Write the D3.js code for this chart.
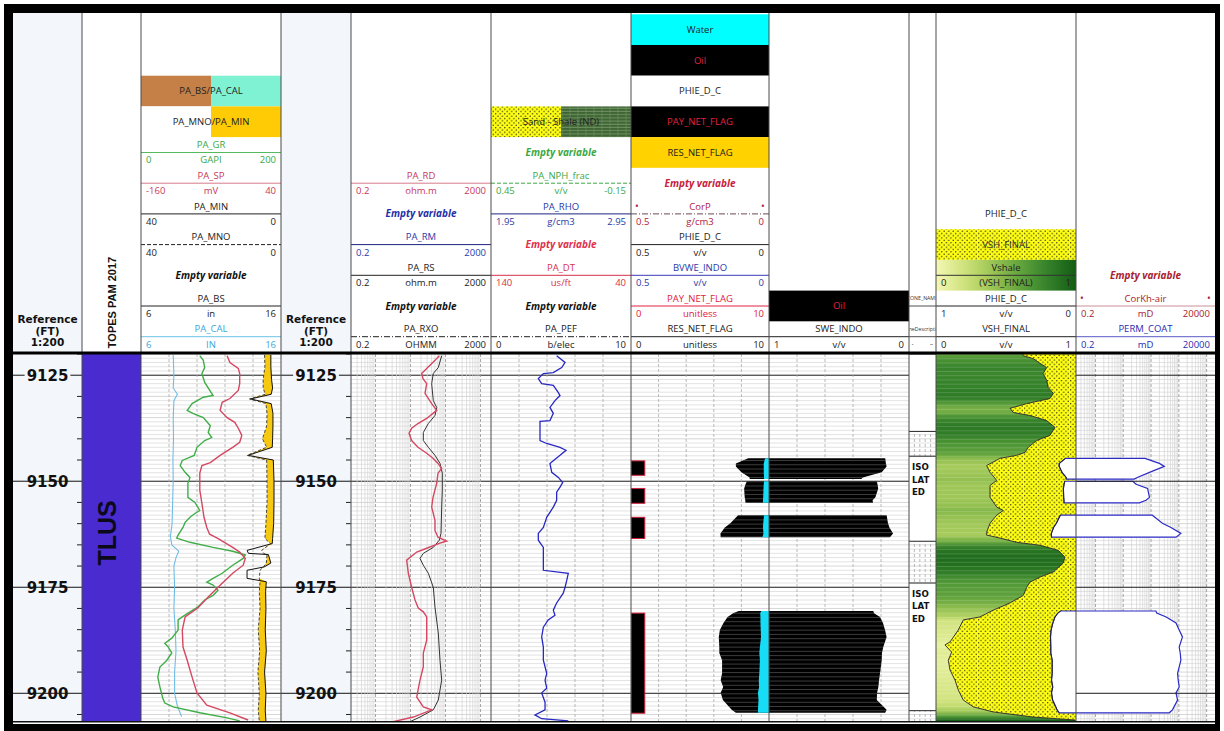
<!DOCTYPE html>
<html>
<head>
<meta charset="utf-8">
<script src="https://cdn.jsdelivr.net/npm/d3@7"></script>
<style>
  body { margin: 0; background: #fff; }
  svg { display: block; }
</style>
</head>
<body>
<svg id="chart" width="1224" height="731"></svg>
<script>
// ---------------- Well data (depth in FT) ----------------
const depthTop = 9120, depthBase = 9206.7;
const majorStep = 25, minorStep = 5;
const depthLabels = [9125, 9150, 9175, 9200];

// [depth, value]
const grLog = [[9120.4,84],[9121.5,89],[9123.2,91],[9124.6,87],[9126.7,91],[9129.8,103],[9130.2,89],[9131.7,73],[9133.3,66],[9134.0,74],[9135.0,89],[9136.9,99],[9138.5,96],[9139.7,101],[9140.4,91],[9142.0,80],[9143.9,76],[9145.1,59],[9146.3,56],[9147.9,63],[9149.1,70],[9150.5,67],[9153.8,67],[9155.0,77],[9156.9,84],[9157.6,77],[9158.5,70],[9159.7,63],[9160.9,60],[9162.7,53],[9163.4,51],[9164.4,70],[9165.6,103],[9166.5,131],[9167.4,149],[9168.2,146],[9169.8,131],[9171.7,116],[9172.9,103],[9173.8,94],[9174.5,103],[9175.7,110],[9176.9,103],[9178.0,91],[9179.7,81],[9180.8,70],[9182.0,59],[9182.7,53],[9185.1,53],[9187.0,44],[9188.2,34],[9189.1,39],[9190.5,44],[9192.2,37],[9193.8,27],[9196.2,24],[9198.5,27],[9201.1,31],[9202.3,34],[9203.2,46],[9204.6,84],[9205.8,123],[9206.5,141]];

const spLog = [[9120.4,-37],[9122.0,-33],[9123.4,-21],[9124.6,-19],[9127.0,-19],[9128.6,-21],[9130.5,-33],[9131.4,-44],[9133.3,-47],[9135.0,-37],[9136.1,-26],[9137.5,-21],[9139.2,-16],[9140.8,-19],[9142.0,-29],[9143.9,-47],[9145.6,-61],[9146.3,-73],[9148.1,-76],[9152.1,-76],[9155.2,-73],[9158.5,-70],[9160.9,-66],[9162.5,-62],[9163.4,-51],[9165.6,-29],[9166.7,-19],[9168.2,-11],[9169.8,-14],[9171.7,-29],[9174.5,-47],[9177.3,-64],[9179.9,-79],[9182.0,-97],[9185.1,-101],[9189.1,-100],[9192.2,-94],[9196.2,-87],[9199.9,-80],[9202.8,-66],[9204.6,-33],[9206.3,-7]];

const calLog = [[9120.2,8.3],[9125,8.35],[9128,8.3],[9129.5,8.6],[9131,8.35],[9135,8.3],[9140,8.32],[9145,8.28],[9150,8.3],[9155,8.26],[9160,8.22],[9163,8.1],[9165,8.2],[9166.5,8.7],[9168,8.5],[9170,8.35],[9175,8.4],[9180,8.35],[9185,8.45],[9190,8.5],[9195,8.4],[9200,8.4],[9203,8.6],[9205.5,8.9]];

// [depth, PA_MNO, PA_MIN]
const mnoMinLog = [[9120.2,4.7,2.9],[9123,4.6,2.9],[9126,5.1,2.7],[9128,5.1,2.4],[9129.5,4.5,2.8],[9130.6,9.0,8.7],[9131.7,4.3,2.8],[9134,4.0,2.3],[9137,4.1,2.3],[9140,5.3,2.4],[9142,4.1,2.5],[9143.9,9.7,9.4],[9145,4.1,2.2],[9150,4.0,2.0],[9155,4.0,2.0],[9160,4.3,2.1],[9163.5,4.6,2.4],[9164.7,3.0,2.5],[9166.3,5.5,9.7],[9167,5.0,9.3],[9167.3,4.0,3.6],[9169.3,4.2,2.9],[9170.2,5.0,4.8],[9171,6.0,9.7],[9172.9,6.2,9.7],[9173.7,6.0,4.2],[9176,6.2,4.4],[9180,6.0,4.3],[9185,6.5,4.5],[9190,6.1,4.2],[9195,6.6,4.7],[9200,6.2,4.3],[9204,6.5,4.5],[9206.6,6.2,4.3]];

const rdLog = [[9120.4,66.7],[9121.5,50.2],[9123.4,29.1],[9124.6,20.9],[9125.8,22.8],[9127.0,29.1],[9129.3,26.0],[9131.7,40.4],[9133.3,56.2],[9134.0,44.0],[9135.2,29.1],[9136.4,16.4],[9137.5,10.8],[9138.7,9.1],[9140.4,10.8],[9142.0,16.4],[9143.4,29.1],[9144.6,44.0],[9145.8,61.2],[9147.0,78.0],[9148.1,61.2],[9150.5,56.2],[9153.8,44.0],[9156.1,40.4],[9159.2,50.2],[9161.6,50.2],[9163.2,61.2],[9164.1,108.5],[9164.6,69.8],[9165.8,29.1],[9166.7,15.1],[9168.6,7.8],[9171.7,8.7],[9175.0,10.8],[9178.0,13.5],[9179.9,16.7],[9180.8,23.3],[9182.0,29.1],[9184.4,29.1],[9187.5,29.1],[9190.5,23.3],[9193.8,23.3],[9196.9,18.7],[9200.9,15.1],[9203.2,23.3],[9203.9,40.4],[9205.6,12.1],[9206.7,3.2]];

const rsLog = [[9120.4,78.0],[9123.2,62.4],[9124.6,44.9],[9127.0,40.4],[9131.0,44.9],[9132.6,56.2],[9134.5,50.2],[9136.4,32.4],[9138.5,23.3],[9140.4,23.3],[9142.0,32.4],[9143.9,50.2],[9145.8,69.8],[9148.1,81.2],[9152.1,81.2],[9156.1,78.0],[9162.3,74.6],[9163.9,66.7],[9165.6,44.9],[9167.0,23.3],[9168.2,18.7],[9169.8,23.3],[9171.7,32.4],[9175.0,44.9],[9179.7,50.2],[9185.8,62.4],[9192.2,69.8],[9196.9,78.0],[9201.6,62.4],[9203.9,44.9],[9205.6,18.7],[9206.7,9.7]];

const pefLog = [[9120.4,4.69],[9122.0,5.29],[9123.2,5.05],[9124.4,4.45],[9124.6,3.74],[9125.8,3.38],[9127.0,3.62],[9127.4,4.45],[9129.1,4.81],[9129.8,4.93],[9131.0,4.57],[9132.6,4.21],[9134.0,4.45],[9135.7,4.21],[9135.9,3.5],[9140.4,3.5],[9141.1,3.98],[9142.0,4.93],[9142.7,5.36],[9143.9,4.93],[9145.8,4.21],[9147.9,4.34],[9149.1,4.81],[9150.3,5.12],[9151.4,4.93],[9152.6,4.69],[9154.5,4.69],[9156.1,4.45],[9158.5,3.98],[9160.9,3.74],[9162.3,3.38],[9163.9,3.38],[9165.6,3.74],[9171.0,3.74],[9171.7,5.52],[9173.4,5.41],[9175.0,5.29],[9176.4,5.16],[9178.7,4.69],[9180.4,4.45],[9181.6,4.57],[9182.7,4.09],[9184.4,3.74],[9186.7,3.62],[9189.1,3.74],[9192.2,3.74],[9195.3,3.98],[9196.9,3.86],[9198.8,3.98],[9199.9,3.62],[9202.1,3.86],[9203.9,3.86],[9205.1,3.14],[9206.0,3.62],[9206.5,5.52]];

const vshLog = [[9120.0,0.62],[9120.4,0.624],[9121.1,0.695],[9122.2,0.743],[9123.2,0.791],[9124.6,0.766],[9126.2,0.791],[9127.9,0.802],[9129.3,0.838],[9130.5,0.814],[9131.7,0.648],[9132.8,0.529],[9133.8,0.552],[9134.5,0.671],[9135.7,0.791],[9137.3,0.85],[9139.2,0.814],[9140.4,0.719],[9142.0,0.659],[9143.2,0.636],[9143.9,0.576],[9144.6,0.457],[9146.3,0.362],[9147.9,0.386],[9149.8,0.434],[9151.0,0.386],[9153.8,0.386],[9156.1,0.434],[9156.9,0.481],[9158.0,0.434],[9159.9,0.386],[9162.0,0.362],[9162.7,0.362],[9163.4,0.457],[9164.4,0.576],[9165.1,0.743],[9166.3,0.874],[9167.9,0.921],[9169.3,0.909],[9171.4,0.838],[9172.6,0.743],[9173.8,0.671],[9175.0,0.648],[9176.9,0.624],[9178.7,0.529],[9180.4,0.409],[9182.0,0.314],[9182.7,0.195],[9185.1,0.159],[9187.9,0.1],[9188.6,0.064],[9190.3,0.112],[9192.2,0.088],[9194.5,0.1],[9196.9,0.136],[9199.2,0.159],[9201.6,0.195],[9203.2,0.266],[9204.4,0.409],[9205.6,0.695],[9206.3,0.993],[9206.7,0.993]];

// [depth, PHIE_D_C, BVWE_INDO, SWE_INDO, PERM_COAT]; null rows separate pay intervals
const payLog = [
  [9144.6,0.075,0.014,0.17,60],[9145.8,0.12,0.019,0.165,200],[9146.5,0.12,0.019,0.16,300],[9147.9,0.10,0.019,0.195,88],[9149.1,0.07,0.018,0.33,32],[9149.5,0.07,0.018,0.34,25],
  [9149.8,null,null,null,null],
  [9150.0,0.08,0.018,0.23,22],[9150.7,0.085,0.019,0.225,29],[9151.7,0.09,0.02,0.22,75],[9153.8,0.088,0.021,0.24,88],[9154.5,0.086,0.022,0.26,66],[9155.1,0.085,0.022,0.257,38],
  [9156.5,null,null,null,null],
  [9158.0,0.112,0.018,0.16,112],[9159.9,0.14,0.021,0.15,256],[9160.9,0.16,0.022,0.14,520],[9162.3,0.176,0.02,0.114,1186],[9163.2,0.175,0.024,0.136,790],
  [9170.0,null,null,null,null],
  [9180.6,0.11,0.028,0.255,150],[9181.1,0.13,0.032,0.25,160],[9182.0,0.15,0.031,0.207,350],[9183.4,0.165,0.031,0.186,790],[9185.1,0.178,0.03,0.171,1030],[9186.7,0.182,0.029,0.16,1350],[9189.1,0.18,0.033,0.184,1030],[9190.5,0.18,0.035,0.193,1120],[9192.2,0.17,0.033,0.195,1186],[9195.3,0.17,0.035,0.207,900],[9196.9,0.175,0.037,0.214,950],[9198.5,0.166,0.036,0.219,1030],[9199.9,0.175,0.04,0.228,790],[9201.6,0.167,0.038,0.23,900],[9203.9,0.135,0.04,0.16,590],[9204.6,0.12,0.04,0.17,450]
];

// [top, base, PAY_NET_FLAG]
const payFlagLog = [[9145.2,9148.6,1],[9151.7,9155.2,1],[9158.5,9163.5,1],[9181.1,9204.7,1]];

// [top, base, ZONE_NAME]
const zoneLog = [[9120,9138.25,""],[9144.1,9164.15,"ISOLATED"],[9174.0,9204.1,"ISOLATED"]];

// [top, base, formation]
const topsLog = [[9100,9250,"TLUS"]];

// ---------------- Layout ----------------
const svg = d3.select("#chart");
const defs = svg.append("defs");
const edges = [13, 82, 141, 281, 351, 491, 631, 769, 909, 936, 1076, 1215];
const HEAD_BOTTOM = 352, DATA_TOP = 354, DATA_BOTTOM = 721.7;
const SLOT_H = 30.7;
const slotTop = k => HEAD_BOTTOM - SLOT_H * (k + 1);
const T = i => [edges[i], edges[i + 1]];
const FONT = "'Open Sans','Noto Sans',sans-serif";
const VFONT = "'DejaVu Sans',Verdana,sans-serif";
const AFONT = "'Liberation Sans',Arial,sans-serif";

const y = d3.scaleLinear().domain([depthTop, depthBase]).range([DATA_TOP, DATA_BOTTOM]);

const xGR = d3.scaleLinear().domain([0, 200]).range(T(2));
const xSP = d3.scaleLinear().domain([-160, 40]).range(T(2));
const xCAL = d3.scaleLinear().domain([6, 16]).range(T(2));
const xMIN = d3.scaleLinear().domain([40, 0]).range(T(2));
const xRES = d3.scaleLog().domain([0.2, 2000]).range(T(4));
const xPEF = d3.scaleLinear().domain([0, 10]).range(T(5));
const xPHI6 = d3.scaleLinear().domain([0.5, 0]).range(T(6));
const xFLAG = d3.scaleLinear().domain([0, 10]).range(T(6));
const xSWE = d3.scaleLinear().domain([1, 0]).range(T(7));
const xVSH = d3.scaleLinear().domain([0, 1]).range(T(9));
const xPHI9 = d3.scaleLinear().domain([1, 0]).range(T(9));
const xPERM = d3.scaleLog().domain([0.2, 20000]).range(T(10));

const vshColor = d3.interpolateRgbBasis(["#f4f7b4", "#c9df6c", "#7db444", "#3b8b31", "#135d14"]);
const footSteps = d3.range(Math.ceil(depthTop), depthBase, 1);

// ---------------- Frame ----------------
svg.append("rect").attr("x", 4).attr("y", 4).attr("width", 1216).attr("height", 727).attr("fill", "#000");
svg.append("rect").attr("x", 13).attr("y", 13).attr("width", 1202).attr("height", 711).attr("fill", "#fff");
[0, 3].forEach(i => svg.append("rect").attr("x", edges[i]).attr("y", 13)
  .attr("width", edges[i + 1] - edges[i]).attr("height", DATA_BOTTOM - 13).attr("fill", "#f3f6fb"));

// ---------------- Patterns / gradients ----------------
const sand = defs.append("pattern").attr("id", "sand").attr("patternUnits", "userSpaceOnUse")
  .attr("width", 4.6).attr("height", 4.6);
sand.append("rect").attr("width", 4.6).attr("height", 4.6).attr("fill", "#ffff14");
sand.append("circle").attr("cx", 1.1).attr("cy", 1.1).attr("r", 0.72).attr("fill", "#222");
sand.append("circle").attr("cx", 3.4).attr("cy", 3.4).attr("r", 0.72).attr("fill", "#222");

const shale = defs.append("pattern").attr("id", "shale").attr("patternUnits", "userSpaceOnUse")
  .attr("width", 8).attr("height", 3.2);
shale.append("rect").attr("width", 8).attr("height", 3.2).attr("fill", "#3f6534");
shale.append("line").attr("x1", 0).attr("x2", 8).attr("y1", 2.6).attr("y2", 2.6).attr("stroke", "#8fae7f").attr("stroke-width", 0.7);
shale.append("line").attr("x1", 2).attr("x2", 2).attr("y1", 0).attr("y2", 2.6).attr("stroke", "#6e9060").attr("stroke-width", 0.5);

const ramp = defs.append("linearGradient").attr("id", "vshRamp").attr("x1", 0).attr("x2", 1).attr("y1", 0).attr("y2", 0);
d3.range(0, 1.001, 0.1).forEach(t => ramp.append("stop").attr("offset", t).attr("stop-color", vshColor(t)));

const vshFill = defs.append("linearGradient").attr("id", "vshFill").attr("gradientUnits", "userSpaceOnUse")
  .attr("x1", 0).attr("x2", 0).attr("y1", DATA_TOP).attr("y2", DATA_BOTTOM);
vshLog.forEach(([d, v]) => vshFill.append("stop")
  .attr("offset", Math.max(0, Math.min(1, (y(d) - DATA_TOP) / (DATA_BOTTOM - DATA_TOP))))
  .attr("stop-color", vshColor(v)));

function clipFor(id, x0, x1) {
  defs.append("clipPath").attr("id", id).append("rect")
    .attr("x", x0).attr("y", DATA_TOP).attr("width", x1 - x0).attr("height", DATA_BOTTOM - DATA_TOP);
  return `url(#${id})`;
}
function clipPathFrom(id, d) {
  defs.append("clipPath").attr("id", id).append("path").attr("d", d);
  return `url(#${id})`;
}
// thin horizontal streaks inside a filled body, one per foot
function streaks(g, clip, x0, x1, color, opacity, width) {
  const s = g.append("g").attr("clip-path", clip);
  footSteps.forEach(d => s.append("line").attr("x1", x0).attr("x2", x1).attr("y1", y(d) + 0.5).attr("y2", y(d) + 0.5)
    .attr("stroke", color).attr("stroke-opacity", opacity).attr("stroke-width", width));
}

// ---------------- Grids ----------------
const gridLayer = svg.append("g");
function hGrid(i, withMajor = true) {
  const [x0, x1] = T(i);
  footSteps.forEach(d => {
    if (d % majorStep === 0) return;
    gridLayer.append("line").attr("x1", x0).attr("x2", x1).attr("y1", y(d)).attr("y2", y(d))
      .attr("stroke", d % minorStep === 0 ? "#cbcbcb" : "#dcdcdc").attr("stroke-width", 0.8);
  });
  if (withMajor) majorLines(gridLayer, x0, x1);
}
function majorLines(g, x0, x1) {
  d3.range(Math.ceil(depthTop / majorStep) * majorStep, depthBase, majorStep).forEach(d =>
    g.append("line").attr("x1", x0).attr("x2", x1).attr("y1", y(d)).attr("y2", y(d))
      .attr("stroke", "#1a1a1a").attr("stroke-width", 1));
}
function linGrid(i, n) {
  const [x0, x1] = T(i);
  d3.range(1, n).forEach(k => {
    const x = x0 + k * (x1 - x0) / n;
    gridLayer.append("line").attr("x1", x).attr("x2", x).attr("y1", DATA_TOP).attr("y2", DATA_BOTTOM)
      .attr("stroke", "#a8a8a8").attr("stroke-width", 0.8).attr("stroke-dasharray", "3,2");
  });
}
function logGrid(scale) {
  const [lo, hi] = scale.domain();
  for (let e = Math.floor(Math.log10(lo)); e <= Math.ceil(Math.log10(hi)); e++) {
    for (let m = 1; m <= 9; m++) {
      const v = m * Math.pow(10, e);
      if (v <= lo * 1.001 || v >= hi * 0.999) continue;
      const x = scale(v);
      gridLayer.append("line").attr("x1", x).attr("x2", x).attr("y1", DATA_TOP).attr("y2", DATA_BOTTOM)
        .attr("stroke", m === 1 ? "#9c9c9c" : "#d2d2d2").attr("stroke-width", m === 1 ? 0.9 : 0.7)
        .attr("stroke-dasharray", m === 1 ? "3,2" : null);
    }
  }
}
hGrid(2); linGrid(2, 5);
hGrid(4); logGrid(xRES);
hGrid(5); linGrid(5, 5);
hGrid(6); linGrid(6, 5);
hGrid(7); linGrid(7, 5);
hGrid(8, false); linGrid(8, 5);
hGrid(10, false); logGrid(xPERM);

// ---------------- Reference tracks ----------------
[0, 3].forEach(i => {
  const [x0, x1] = T(i);
  const cx = (x0 + x1) / 2;
  const g = svg.append("g");
  d3.range(Math.ceil(depthTop / minorStep) * minorStep, depthBase, minorStep).forEach(d => {
    if (d % majorStep === 0) return;
    g.append("line").attr("x1", x1 - 5).attr("x2", x1).attr("y1", y(d)).attr("y2", y(d)).attr("stroke", "#222");
  });
  depthLabels.forEach(d => {
    g.append("line").attr("x1", x0).attr("x2", x1).attr("y1", y(d)).attr("y2", y(d)).attr("stroke", "#111");
    const t = g.append("text").attr("x", cx).attr("y", y(d)).attr("dy", "0.36em")
      .attr("text-anchor", "middle").attr("font-family", VFONT).attr("font-weight", "bold")
      .attr("font-size", 15).attr("fill", "#111").text(d);
    const b = t.node().getBBox();
    g.insert("rect", "text").attr("x", b.x - 2).attr("y", b.y).attr("width", b.width + 4)
      .attr("height", b.height).attr("fill", "#f3f6fb");
  });
  ["Reference", "(FT)", "1:200"].forEach((s, k) =>
    svg.append("text").attr("x", cx).attr("y", 323 + k * 11.5).attr("text-anchor", "middle")
      .attr("font-family", VFONT).attr("font-weight", "bold").attr("font-size", 10.5).attr("fill", "#111").text(s));
});

// ---------------- Tops track ----------------
{
  const [x0, x1] = T(1);
  topsLog.forEach(([top, base, name]) => {
    const t0 = Math.max(top, depthTop), b0 = Math.min(base, depthBase);
    svg.append("rect").attr("x", x0).attr("y", y(t0)).attr("width", x1 - x0).attr("height", y(b0) - y(t0))
      .attr("fill", "#4a2bcf");
    svg.append("text").attr("transform", `translate(${(x0 + x1) / 2 - 4},${(y(t0) + y(b0)) / 2 - 5}) rotate(-90)`)
      .attr("text-anchor", "middle").attr("dy", "0.35em").attr("font-family", AFONT).attr("font-weight", "bold")
      .attr("font-size", 25).attr("fill", "#0a0a1a").text(name);
  });
  svg.append("text").attr("transform", `translate(${(x0 + x1) / 2 + 1},302.5) rotate(-90)`)
    .attr("text-anchor", "middle").attr("dy", "0.35em").attr("font-family", AFONT).attr("font-weight", "bold")
    .attr("font-size", 11).attr("fill", "#111").text("TOPES PAM 2017");
}

// ---------------- Track 2: GR / SP / CAL / MIN-MNO ----------------
{
  const g = svg.append("g").attr("clip-path", clipFor("c2", ...T(2)));
  g.append("path").datum(mnoMinLog)
    .attr("d", d3.area().y(d => y(d[0])).x0(d => xMIN(d[1])).x1(d => xMIN(Math.min(d[1], d[2]))))
    .attr("fill", "#f6c80f");
  g.append("path").datum(mnoMinLog).attr("d", d3.line().x(d => xMIN(d[2])).y(d => y(d[0])))
    .attr("fill", "none").attr("stroke", "#111").attr("stroke-width", 1);
  g.append("path").datum(mnoMinLog).attr("d", d3.line().x(d => xMIN(d[1])).y(d => y(d[0])))
    .attr("fill", "none").attr("stroke", "#333").attr("stroke-width", 0.9).attr("stroke-dasharray", "3,2");
  g.append("path").datum(calLog).attr("d", d3.line().x(d => xCAL(d[1])).y(d => y(d[0])))
    .attr("fill", "none").attr("stroke", "#6fbde6").attr("stroke-width", 1.1);
  g.append("path").datum(grLog).attr("d", d3.line().x(d => xGR(d[1])).y(d => y(d[0])))
    .attr("fill", "none").attr("stroke", "#3fae48").attr("stroke-width", 1.4);
  g.append("path").datum(spLog).attr("d", d3.line().x(d => xSP(d[1])).y(d => y(d[0])))
    .attr("fill", "none").attr("stroke", "#d44862").attr("stroke-width", 1.4);
}

// ---------------- Track 4: resistivity ----------------
{
  const g = svg.append("g").attr("clip-path", clipFor("c4", ...T(4)));
  g.append("path").datum(rsLog).attr("d", d3.line().x(d => xRES(d[1])).y(d => y(d[0])))
    .attr("fill", "none").attr("stroke", "#333").attr("stroke-width", 1);
  g.append("path").datum(rdLog).attr("d", d3.line().x(d => xRES(d[1])).y(d => y(d[0])))
    .attr("fill", "none").attr("stroke", "#d44862").attr("stroke-width", 1.4);
}

// ---------------- Track 5: PEF ----------------
{
  const g = svg.append("g").attr("clip-path", clipFor("c5", ...T(5)));
  g.append("path").datum(pefLog).attr("d", d3.line().x(d => xPEF(d[1])).y(d => y(d[0])))
    .attr("fill", "none").attr("stroke", "#2727c4").attr("stroke-width", 1.3);
}

// ---------------- Tracks 6-7: flags, oil / water volumes, saturation ----------------
{
  const g = svg.append("g").attr("clip-path", clipFor("c67", edges[6], edges[8]));
  payFlagLog.forEach(([top, base, v]) =>
    g.append("rect").attr("x", xFLAG(0)).attr("y", y(top)).attr("width", xFLAG(v) - xFLAG(0))
      .attr("height", y(base) - y(top)).attr("fill", "#000").attr("stroke", "#d0203a").attr("stroke-width", 1));
  const has = d => d[1] != null;
  const oilArea = d3.area().defined(has).y(d => y(d[0])).x0(d => xPHI6(d[1])).x1(d => xSWE(d[3]))(payLog);
  g.append("path").attr("d", oilArea).attr("fill", "#000");
  streaks(g, clipPathFrom("oilClip", oilArea), edges[6], edges[8], "#8a8a8a", 0.55, 0.8);
  g.append("path").datum(payLog)
    .attr("d", d3.area().defined(has).y(d => y(d[0])).x0(d => xPHI6(d[2])).x1(() => xPHI6(0)))
    .attr("fill", "#16dcf5");
}

// ---------------- Track 8: zones ----------------
{
  const [x0, x1] = T(8);
  zoneLog.forEach(([top, base, name]) => {
    const t0 = Math.max(top, depthTop);
    svg.append("rect").attr("x", x0).attr("y", y(t0)).attr("width", x1 - x0).attr("height", y(base) - y(t0))
      .attr("fill", "#fff");
    [t0, base].forEach(d => svg.append("line").attr("x1", x0).attr("x2", x1).attr("y1", y(d)).attr("y2", y(d))
      .attr("stroke", "#222").attr("stroke-width", 1));
    const parts = name.match(/.{1,3}/g) || [];
    parts.forEach((p, k) => svg.append("text").attr("x", x0 + 3).attr("y", y(t0) + 14 + k * 12.3)
      .attr("font-family", VFONT).attr("font-weight", "bold").attr("font-size", 8.6).attr("fill", "#111").text(p));
  });
}

// ---------------- Tracks 9-10: shale volume, porosity, permeability ----------------
{
  const g = svg.append("g").attr("clip-path", clipFor("c910", edges[9], edges[11]));
  const shaleArea = d3.area().y(d => y(d[0])).x0(() => xVSH(0)).x1(d => xVSH(d[1]))(vshLog);
  g.append("path").attr("d", shaleArea).attr("fill", "url(#vshFill)");
  streaks(g, clipPathFrom("shaleClip", shaleArea), edges[9], edges[10], "#ffffff", 0.16, 1);
  g.append("path").datum(vshLog)
    .attr("d", d3.area().y(d => y(d[0])).x0(d => xVSH(d[1])).x1(() => xVSH(1)))
    .attr("fill", "url(#sand)");
  g.append("path").datum(vshLog).attr("d", d3.line().x(d => xVSH(d[1])).y(d => y(d[0])))
    .attr("fill", "none").attr("stroke", "#222").attr("stroke-width", 0.9);
  const has = d => d[1] != null;
  g.append("path").datum(payLog)
    .attr("d", d3.area().defined(has).y(d => y(d[0])).x0(d => xPHI9(d[1])).x1(d => xPERM(d[4])))
    .attr("fill", "#fff").attr("stroke", "#2b2bc4").attr("stroke-width", 1.2);
  g.append("path").datum(payLog).attr("d", d3.line().defined(has).x(d => xPHI9(d[1])).y(d => y(d[0])))
    .attr("fill", "none").attr("stroke", "#222").attr("stroke-width", 0.9);
  const gm = svg.append("g").attr("clip-path", clipFor("c10", ...T(10)));
  majorLines(gm, ...T(10));
}

// ---------------- Headers ----------------
const headers = {
  2: [
    { slot: 8, fill: ["#c58048", "#80f2d4"], label: "PA_BS/PA_CAL" },
    { slot: 7, fill: ["#ffffff", "#ffcb05"], label: "PA_MNO/PA_MIN" },
    { slot: 6, name: "PA_GR", unit: "GAPI", lo: "0", hi: "200", color: "#3aa845", line: "#55b95e" },
    { slot: 5, name: "PA_SP", unit: "mV", lo: "-160", hi: "40", color: "#c8385a", line: "#d77b8c" },
    { slot: 4, name: "PA_MIN", unit: "", lo: "40", hi: "0", color: "#222", line: "#222" },
    { slot: 3, name: "PA_MNO", unit: "", lo: "40", hi: "0", color: "#222", line: "#222", dash: "4,2" },
    { slot: 2, empty: true, color: "#111" },
    { slot: 1, name: "PA_BS", unit: "in", lo: "6", hi: "16", color: "#222", line: "#222" },
    { slot: 0, name: "PA_CAL", unit: "IN", lo: "6", hi: "16", color: "#3aa7dc", line: "#6cc3e8" }
  ],
  4: [
    { slot: 5, name: "PA_RD", unit: "ohm.m", lo: "0.2", hi: "2000", color: "#c8385a", line: "#d77b8c" },
    { slot: 4, empty: true, color: "#2330a8" },
    { slot: 3, name: "PA_RM", unit: "", lo: "0.2", hi: "2000", color: "#2a3aa8", line: "#1d2380" },
    { slot: 2, name: "PA_RS", unit: "ohm.m", lo: "0.2", hi: "2000", color: "#222", line: "#222" },
    { slot: 1, empty: true, color: "#111" },
    { slot: 0, name: "PA_RXO", unit: "OHMM", lo: "0.2", hi: "2000", color: "#222", line: "#222", dash: "6,2,1,2" }
  ],
  5: [
    { slot: 7, fill: ["url(#sand)", "url(#shale)"], label: "Sand - Shale (ND)" },
    { slot: 6, empty: true, color: "#3aa845" },
    { slot: 5, name: "PA_NPH_frac", unit: "v/v", lo: "0.45", hi: "-0.15", color: "#3aa845", line: "#3aa845", dash: "4,2" },
    { slot: 4, name: "PA_RHO", unit: "g/cm3", lo: "1.95", hi: "2.95", color: "#2a3aa8", line: "#1d2380" },
    { slot: 3, empty: true, color: "#e0304a" },
    { slot: 2, name: "PA_DT", unit: "us/ft", lo: "140", hi: "40", color: "#d8304a", line: "#d8304a" },
    { slot: 1, empty: true, color: "#111" },
    { slot: 0, name: "PA_PEF", unit: "b/elec", lo: "0", hi: "10", color: "#222", line: "#222", dash: "6,2,1,2" }
  ],
  6: [
    { slot: 10, fill: ["#00ffff"], label: "Water", text: "#222" },
    { slot: 9, fill: ["#000"], label: "Oil", text: "#e02040" },
    { slot: 8, fill: ["#fff"], label: "PHIE_D_C", text: "#222" },
    { slot: 7, fill: ["#000"], label: "PAY_NET_FLAG", text: "#e02040" },
    { slot: 6, fill: ["#ffd200"], label: "RES_NET_FLAG", text: "#222" },
    { slot: 5, empty: true, color: "#c8203c" },
    { slot: 4, name: "CorP", dots: true, unit: "g/cm3", lo: "0.5", hi: "0", color: "#b02040", line: "#6a4a55", dash: "6,2,1,2" },
    { slot: 3, name: "PHIE_D_C", unit: "v/v", lo: "0.5", hi: "0", color: "#222", line: "#222" },
    { slot: 2, name: "BVWE_INDO", unit: "v/v", lo: "0.5", hi: "0", color: "#2a3aa8", line: "#3a3ab8" },
    { slot: 1, name: "PAY_NET_FLAG", unit: "unitless", lo: "0", hi: "10", color: "#e02040", line: "#e02040" },
    { slot: 0, name: "RES_NET_FLAG", unit: "unitless", lo: "0", hi: "10", color: "#222", line: "#222" }
  ],
  7: [
    { slot: 1, fill: ["#000"], label: "Oil", text: "#e02040" },
    { slot: 0, name: "SWE_INDO", unit: "v/v", lo: "1", hi: "0", color: "#222", line: "#222" }
  ],
  8: [
    { slot: 1, tiny: "ZONE_NAME" },
    { slot: 0, tiny: "ZoneDescription", marks: true }
  ],
  9: [
    { slot: 4, fill: ["#fff"], label: "PHIE_D_C", text: "#222" },
    { slot: 3, fill: ["url(#sand)"], label: "VSH_FINAL", text: "#333" },
    { slot: 2, ramp: true, name: "Vshale", unit: "(VSH_FINAL)", lo: "0", hi: "1", color: "#222", line: "#333" },
    { slot: 1, name: "PHIE_D_C", unit: "v/v", lo: "1", hi: "0", color: "#222", line: "#222" },
    { slot: 0, name: "VSH_FINAL", unit: "v/v", lo: "0", hi: "1", color: "#222", line: "#222" }
  ],
  10: [
    { slot: 2, empty: true, color: "#a8202e" },
    { slot: 1, name: "CorKh-air", dots: true, unit: "mD", lo: "0.2", hi: "20000", color: "#a8202e", line: "#c89098" },
    { slot: 0, name: "PERM_COAT", unit: "mD", lo: "0.2", hi: "20000", color: "#2a2ab0", line: "#5a5ac8" }
  ]
};

const head = svg.append("g");
function txt(x, yy, s, opt = {}) {
  return head.append("text").attr("x", x).attr("y", yy).attr("dy", "0.35em")
    .attr("text-anchor", opt.anchor || "middle").attr("font-family", FONT)
    .attr("font-size", opt.size || 9.5).attr("fill", opt.color || "#222")
    .attr("font-weight", opt.bold ? "bold" : null).attr("font-style", opt.italic ? "italic" : null)
    .text(s);
}
Object.entries(headers).forEach(([key, list]) => {
  const i = +key;
  const [x0, x1] = T(i);
  const cx = (x0 + x1) / 2, w = x1 - x0;
  list.forEach(e => {
    const top = slotTop(e.slot);
    if (e.fill) {
      const n = e.fill.length;
      e.fill.forEach((f, k) => head.append("rect").attr("x", x0 + k * w / n).attr("y", top)
        .attr("width", w / n).attr("height", SLOT_H).attr("fill", f));
      txt(cx, top + SLOT_H / 2, e.label, { color: e.text || "#222" });
      return;
    }
    if (e.empty) {
      txt(cx, top + 15.4, "Empty variable", { color: e.color, bold: true, italic: true, size: 10 });
      return;
    }
    if (e.tiny) {
      const cid = "h8" + e.slot;
      defs.append("clipPath").attr("id", cid).append("rect").attr("x", x0 + 0.5).attr("y", top)
        .attr("width", w - 1).attr("height", SLOT_H);
      head.append("text").attr("clip-path", `url(#${cid})`).attr("x", cx).attr("y", top + 8).attr("dy", "0.35em")
        .attr("text-anchor", "middle").attr("font-family", FONT).attr("font-size", 5.2).attr("fill", "#333").text(e.tiny);
      head.append("line").attr("x1", x0).attr("x2", x1).attr("y1", top + 15.4).attr("y2", top + 15.4)
        .attr("stroke", "#222").attr("stroke-width", 0.8);
      if (e.marks) {
        txt(x0 + 3, top + 23, "▪", { anchor: "start", size: 4, color: "#777" });
        txt(x1 - 3, top + 23, "▪▪", { anchor: "end", size: 4, color: "#777" });
      }
      return;
    }
    if (e.ramp) {
      head.append("rect").attr("x", x0).attr("y", top).attr("width", w).attr("height", SLOT_H).attr("fill", "url(#vshRamp)");
    }
    txt(cx, top + 7.7, e.name, { color: e.color });
    if (e.dots) {
      txt(x0 + 6, top + 7.7, "•", { color: e.color, size: 10 });
      txt(x1 - 6, top + 7.7, "•", { color: e.color, size: 10 });
    }
    head.append("line").attr("x1", x0).attr("x2", x1).attr("y1", top + 15.4).attr("y2", top + 15.4)
      .attr("stroke", e.line).attr("stroke-width", 1).attr("stroke-dasharray", e.dash || null);
    txt(x0 + 5, top + 23, e.lo, { anchor: "start", color: e.color });
    if (e.unit) txt(cx, top + 23, e.unit, { color: e.color });
    txt(x1 - 5, top + 23, e.hi, { anchor: "end", color: e.color });
  });
});

// ---------------- Borders ----------------
edges.slice(1, -1).forEach(x => svg.append("line").attr("x1", x).attr("x2", x).attr("y1", 13).attr("y2", DATA_BOTTOM)
  .attr("stroke", "#4a4a4a").attr("stroke-width", 1));
svg.append("line").attr("x1", 13).attr("x2", 1215).attr("y1", 353).attr("y2", 353).attr("stroke", "#000").attr("stroke-width", 3);
svg.append("line").attr("x1", 13).attr("x2", 1215).attr("y1", DATA_BOTTOM).attr("y2", DATA_BOTTOM).attr("stroke", "#111").attr("stroke-width", 1.5);
</script>
</body>
</html>
